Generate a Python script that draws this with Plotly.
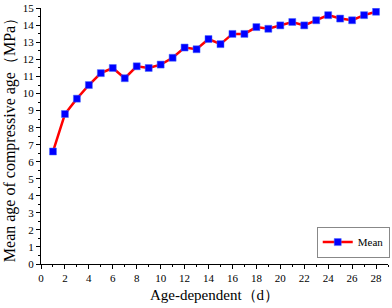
import plotly.graph_objects as go

days = list(range(1, 29))
mean_strength = [6.6, 8.8, 9.7, 10.5, 11.2, 11.5, 10.9, 11.6, 11.5, 11.7, 12.1, 12.7, 12.6, 13.2,
                 12.9, 13.5, 13.5, 13.9, 13.8, 14.0, 14.2, 14.0, 14.3, 14.6, 14.4, 14.3, 14.6, 14.8]
x_ticks = list(range(0, 29, 2))
y_ticks = list(range(0, 16))

serif = "Liberation Serif"

fig = go.Figure()
fig.add_trace(go.Scatter(
    x=days, y=mean_strength, mode="lines+markers", name="Mean",
    line=dict(color="#ff0000", width=2.5),
    marker=dict(symbol="square", size=7, color="#0000ff",
                line=dict(color="#4a6cff", width=0.5)),
))

axis_common = dict(
    showline=True, linecolor="black", linewidth=1.2, showgrid=False, zeroline=False,
    ticks="outside", ticklen=4, tickwidth=1.2, tickcolor="black",
    tickfont=dict(family=serif, size=11, color="black"),
    mirror=False,
)

fig.update_xaxes(
    range=[0, 29], tickvals=x_ticks,
    minor=dict(ticks="outside", ticklen=2, tickwidth=1, tickcolor="black", dtick=1, tick0=0),
    title=dict(text="Age-dependent（d）", font=dict(family=serif, size=15, color="black"), standoff=6),
    **axis_common,
)
fig.update_yaxes(
    range=[0, 15.02], tickvals=y_ticks,
    minor=dict(ticks="outside", ticklen=2, tickwidth=1, tickcolor="black", dtick=0.5, tick0=0),
    title=dict(text="Mean age of compressive age（MPa）", font=dict(family=serif, size=16, color="black"), standoff=3),
    **axis_common,
)

fig.update_layout(
    width=392, height=308,
    margin=dict(l=41, r=2, t=6, b=44),
    plot_bgcolor="white", paper_bgcolor="white",
    showlegend=True,
    legend=dict(x=1.005, y=0.025, xanchor="right", yanchor="bottom",
                bordercolor="#888888", borderwidth=1, bgcolor="white",
                font=dict(family=serif, size=11, color="black"),
                tracegroupgap=0, itemwidth=30),
)

fig.write_html("out.html", config={"displayModeBar": False},
               post_script="document.body.style.margin='0';document.body.style.padding='0';")
